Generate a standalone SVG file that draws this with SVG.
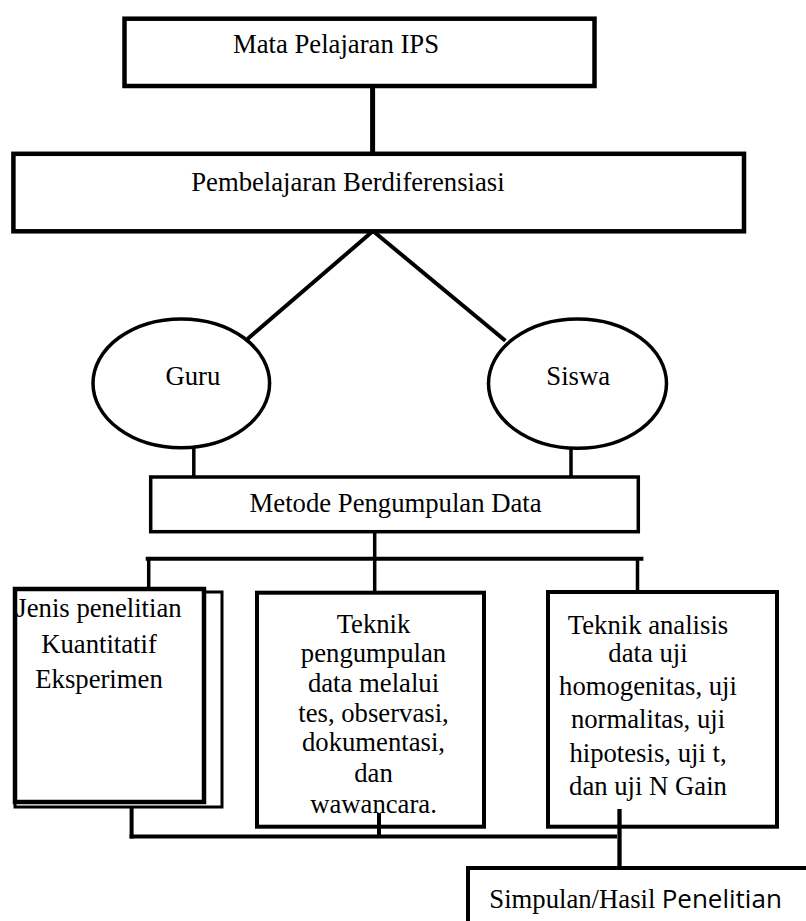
<svg xmlns="http://www.w3.org/2000/svg" width="806" height="921" viewBox="0 0 806 921">
<style>
.box{fill:#fff;stroke:#000}
.t{font-family:"Liberation Serif","Times New Roman",serif;font-size:26.7px;fill:#000}
.c{text-anchor:middle}
.ln{stroke:#000;fill:none;stroke-linecap:butt}
</style>
<rect x="0" y="0" width="806" height="921" fill="#fff"/>
<g id="node-ips">
<rect class="box" x="124.5" y="18.7" width="470" height="67.3" stroke-width="4.5"/>
<text class="t" x="233" y="53">Mata Pelajaran IPS</text>
</g>
<g id="node-pembelajaran">
<rect class="box" x="13.4" y="153.8" width="730.6" height="77.5" stroke-width="4.5"/>
<text class="t" x="191.2" y="190.7">Pembelajaran Berdiferensiasi</text>
</g>
<g id="node-guru">
<ellipse class="box" cx="181.3" cy="383.3" rx="88.3" ry="64.4" stroke-width="3.5"/>
<text class="t" x="165.4" y="385">Guru</text>
</g>
<g id="node-siswa">
<ellipse class="box" cx="577.5" cy="383.6" rx="89" ry="64.7" stroke-width="3.5"/>
<text class="t" x="546.3" y="385">Siswa</text>
</g>
<g id="node-metode">
<rect class="box" x="150.7" y="477" width="487.6" height="54.7" stroke-width="3.5"/>
<text class="t" x="249.6" y="512.3">Metode Pengumpulan Data</text>
</g>
<g id="node-jenis">
<rect class="box" x="15" y="592" width="207" height="215" stroke-width="3"/>
<rect class="box" x="15" y="589" width="189" height="213" stroke-width="4.5"/>
<text class="t c" x="99" y="617">Jenis penelitian</text>
<text class="t c" x="99" y="652.7">Kuantitatif</text>
<text class="t c" x="99" y="687.5">Eksperimen</text>
</g>
<g id="node-pengumpulan">
<rect class="box" x="257" y="592.7" width="227" height="234" stroke-width="4"/>
<text class="t c" x="373.5" y="633">Teknik</text>
<text class="t c" x="373.5" y="662">pengumpulan</text>
<text class="t c" x="373.5" y="692">data melalui</text>
<text class="t c" x="373.5" y="722">tes, observasi,</text>
<text class="t c" x="373.5" y="751">dokumentasi,</text>
<text class="t c" x="373.5" y="782">dan</text>
<text class="t c" x="373.5" y="813">wawancara.</text>
</g>
<g id="node-analisis">
<rect class="box" x="548" y="592" width="229" height="234.7" stroke-width="4"/>
<text class="t c" x="648" y="634.3">Teknik analisis</text>
<text class="t c" x="648" y="662">data uji</text>
<text class="t c" x="648" y="695">homogenitas, uji</text>
<text class="t c" x="648" y="728.3">normalitas, uji</text>
<text class="t c" x="648" y="761.7">hipotesis, uji t,</text>
<text class="t c" x="648" y="795">dan uji N Gain</text>
</g>
<g id="node-simpulan">
<rect class="box" x="468" y="868" width="400" height="100" stroke-width="4"/>
<text class="t" x="489.3" y="908.3">Simpulan/Hasil <tspan x="661.7" style="font-family:'Open Sans','Noto Sans',sans-serif;font-size:26px">Penelitian</tspan></text>
</g>
<g id="connectors" class="ln">
<line class="ln" x1="372.6" y1="88" x2="372.6" y2="152" stroke-width="5"/>
<line class="ln" x1="373" y1="231" x2="247.5" y2="339" stroke-width="4"/>
<line class="ln" x1="373" y1="231" x2="505.4" y2="340.7" stroke-width="4"/>
<line class="ln" x1="193.8" y1="448" x2="193.8" y2="477" stroke-width="3.5"/>
<line class="ln" x1="571" y1="448" x2="571" y2="477" stroke-width="3.5"/>
<line class="ln" x1="374.7" y1="532" x2="374.7" y2="559" stroke-width="3.5"/>
<line class="ln" x1="145.7" y1="558.7" x2="643.4" y2="558.7" stroke-width="4"/>
<line class="ln" x1="148.7" y1="558.7" x2="148.7" y2="589" stroke-width="3.5"/>
<line class="ln" x1="374.7" y1="558.7" x2="374.7" y2="592" stroke-width="3.5"/>
<line class="ln" x1="637.5" y1="558.7" x2="637.5" y2="592" stroke-width="3.5"/>
<line class="ln" x1="131.6" y1="807" x2="131.6" y2="838.5" stroke-width="4"/>
<line class="ln" x1="129.6" y1="836.5" x2="617" y2="836.5" stroke-width="4"/>
<line class="ln" x1="379" y1="813" x2="379" y2="836.5" stroke-width="4"/>
<line class="ln" x1="619.5" y1="809" x2="619.5" y2="868" stroke-width="4.3"/>
</g>
</svg>
